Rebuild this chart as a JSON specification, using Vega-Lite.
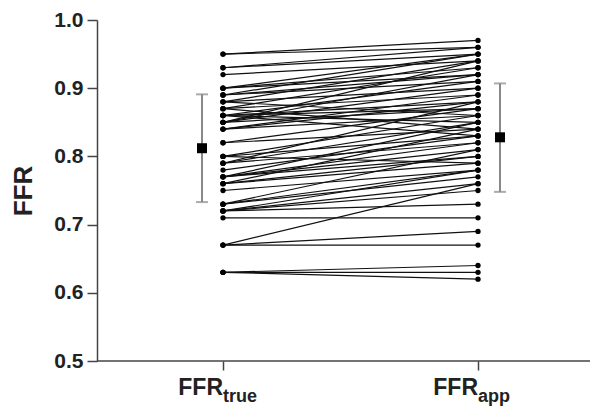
{
  "$schema": "https://vega.github.io/schema/vega-lite/v6.json",
  "autosize": {"type": "none"},
  "padding": {"left": 97, "top": 20, "right": 11, "bottom": 47},
  "width": 493,
  "height": 341,
  "background": "white",
  "config": {"view": {"stroke": null}, "font": "Liberation Sans"},
  "datasets": {
    "pairs": [
      {"id": 1, "FFRtrue": 0.95, "FFRapp": 0.97},
      {"id": 2, "FFRtrue": 0.95, "FFRapp": 0.96},
      {"id": 3, "FFRtrue": 0.93, "FFRapp": 0.96},
      {"id": 4, "FFRtrue": 0.93, "FFRapp": 0.95},
      {"id": 5, "FFRtrue": 0.92, "FFRapp": 0.94},
      {"id": 6, "FFRtrue": 0.90, "FFRapp": 0.95},
      {"id": 7, "FFRtrue": 0.90, "FFRapp": 0.93},
      {"id": 8, "FFRtrue": 0.89, "FFRapp": 0.92},
      {"id": 9, "FFRtrue": 0.89, "FFRapp": 0.91},
      {"id": 10, "FFRtrue": 0.88, "FFRapp": 0.94},
      {"id": 11, "FFRtrue": 0.88, "FFRapp": 0.90},
      {"id": 12, "FFRtrue": 0.87, "FFRapp": 0.93},
      {"id": 13, "FFRtrue": 0.87, "FFRapp": 0.89},
      {"id": 14, "FFRtrue": 0.86, "FFRapp": 0.88},
      {"id": 15, "FFRtrue": 0.86, "FFRapp": 0.91},
      {"id": 16, "FFRtrue": 0.86, "FFRapp": 0.85},
      {"id": 17, "FFRtrue": 0.85, "FFRapp": 0.87},
      {"id": 18, "FFRtrue": 0.85, "FFRapp": 0.90},
      {"id": 19, "FFRtrue": 0.84, "FFRapp": 0.86},
      {"id": 20, "FFRtrue": 0.84, "FFRapp": 0.89},
      {"id": 21, "FFRtrue": 0.82, "FFRapp": 0.84},
      {"id": 22, "FFRtrue": 0.80, "FFRapp": 0.86},
      {"id": 23, "FFRtrue": 0.80, "FFRapp": 0.83},
      {"id": 24, "FFRtrue": 0.79, "FFRapp": 0.82},
      {"id": 25, "FFRtrue": 0.79, "FFRapp": 0.88},
      {"id": 26, "FFRtrue": 0.77, "FFRapp": 0.81},
      {"id": 27, "FFRtrue": 0.77, "FFRapp": 0.85},
      {"id": 28, "FFRtrue": 0.76, "FFRapp": 0.80},
      {"id": 29, "FFRtrue": 0.76, "FFRapp": 0.79},
      {"id": 30, "FFRtrue": 0.75, "FFRapp": 0.78},
      {"id": 31, "FFRtrue": 0.73, "FFRapp": 0.78},
      {"id": 32, "FFRtrue": 0.73, "FFRapp": 0.77},
      {"id": 33, "FFRtrue": 0.72, "FFRapp": 0.76},
      {"id": 34, "FFRtrue": 0.72, "FFRapp": 0.73},
      {"id": 35, "FFRtrue": 0.72, "FFRapp": 0.75},
      {"id": 36, "FFRtrue": 0.71, "FFRapp": 0.71},
      {"id": 37, "FFRtrue": 0.67, "FFRapp": 0.76},
      {"id": 38, "FFRtrue": 0.67, "FFRapp": 0.69},
      {"id": 39, "FFRtrue": 0.67, "FFRapp": 0.67},
      {"id": 40, "FFRtrue": 0.63, "FFRapp": 0.64},
      {"id": 41, "FFRtrue": 0.63, "FFRapp": 0.63},
      {"id": 42, "FFRtrue": 0.63, "FFRapp": 0.62},
      {"id": 43, "FFRtrue": 0.87, "FFRapp": 0.84},
      {"id": 44, "FFRtrue": 0.85, "FFRapp": 0.92},
      {"id": 45, "FFRtrue": 0.86, "FFRapp": 0.87},
      {"id": 46, "FFRtrue": 0.78, "FFRapp": 0.83},
      {"id": 47, "FFRtrue": 0.80, "FFRapp": 0.79},
      {"id": 48, "FFRtrue": 0.89, "FFRapp": 0.95},
      {"id": 49, "FFRtrue": 0.82, "FFRapp": 0.87},
      {"id": 50, "FFRtrue": 0.77, "FFRapp": 0.82},
      {"id": 51, "FFRtrue": 0.90, "FFRapp": 0.92},
      {"id": 52, "FFRtrue": 0.88, "FFRapp": 0.86},
      {"id": 53, "FFRtrue": 0.86, "FFRapp": 0.83},
      {"id": 54, "FFRtrue": 0.84, "FFRapp": 0.88},
      {"id": 55, "FFRtrue": 0.79, "FFRapp": 0.85},
      {"id": 56, "FFRtrue": 0.77, "FFRapp": 0.80},
      {"id": 57, "FFRtrue": 0.76, "FFRapp": 0.84},
      {"id": 58, "FFRtrue": 0.73, "FFRapp": 0.81},
      {"id": 59, "FFRtrue": 0.72, "FFRapp": 0.78},
      {"id": 60, "FFRtrue": 0.85, "FFRapp": 0.94}
    ],
    "summary": [
      {"method": "FFRtrue", "mean": 0.812, "lo": 0.733, "hi": 0.891},
      {"method": "FFRapp", "mean": 0.828, "lo": 0.748, "hi": 0.907}
    ],
    "labels": [
      {"method": "FFRtrue", "sub": "true"},
      {"method": "FFRapp", "sub": "app"}
    ]
  },
  "layer": [
    {
      "data": {"name": "pairs"},
      "transform": [{"fold": ["FFRtrue", "FFRapp"], "as": ["method", "ffr"]}],
      "mark": {"type": "line", "color": "#111", "strokeWidth": 1.2},
      "encoding": {
        "x": {"field": "method", "type": "nominal", "title": null,
          "scale": {"type": "point", "domain": ["FFRtrue", "FFRapp"], "range": [126, 381], "padding": 0},
          "axis": {"domain": false, "labels": false, "ticks": true, "tickSize": 9, "tickColor": "#444", "tickWidth": 1.5, "title": null}},
        "y": {"field": "ffr", "type": "quantitative", "title": "FFR",
          "scale": {"domain": [0.5, 1.0], "nice": false, "zero": false},
          "axis": {
            "values": [0.5, 0.55, 0.6, 0.65, 0.7, 0.75, 0.8, 0.85, 0.9, 0.95, 1.0],
            "labelExpr": "abs(datum.value*10 - round(datum.value*10)) < 0.01 ? format(datum.value, '.1f') : ''",
            "tickSize": {"condition": {"test": "abs(datum.value*10 - round(datum.value*10)) > 0.01", "value": 6}, "value": 10},
            "grid": false, "domainColor": "#444", "domainWidth": 1.5, "tickColor": "#444", "tickWidth": 1.5,
            "labelFontSize": 21, "labelFontWeight": "bold", "labelColor": "#222", "labelPadding": 4,
            "titleFontSize": 26, "titleFontWeight": "bold", "titleColor": "#222", "titlePadding": 17
          }},
        "detail": {"field": "id", "type": "nominal"}
      }
    },
    {
      "data": {"name": "pairs"},
      "transform": [{"fold": ["FFRtrue", "FFRapp"], "as": ["method", "ffr"]}],
      "mark": {"type": "circle", "color": "#000", "opacity": 1, "size": 28},
      "encoding": {
        "x": {"field": "method", "type": "nominal", "title": null},
        "y": {"field": "ffr", "type": "quantitative", "title": "FFR"}
      }
    },
    {
      "data": {"name": "summary"},
      "transform": [{"filter": "datum.method === 'FFRtrue'"}],
      "layer": [
        {"mark": {"type": "rule", "color": "#888", "strokeWidth": 2, "xOffset": -21},
          "encoding": {"x": {"field": "method", "type": "nominal", "title": null},
            "y": {"field": "lo", "type": "quantitative", "title": "FFR"}, "y2": {"field": "hi"}}},
        {"mark": {"type": "tick", "orient": "horizontal", "color": "#888", "size": 12, "thickness": 2, "xOffset": -21},
          "encoding": {"x": {"field": "method", "type": "nominal", "title": null},
            "y": {"field": "lo", "type": "quantitative", "title": "FFR"}}},
        {"mark": {"type": "tick", "orient": "horizontal", "color": "#888", "size": 12, "thickness": 2, "xOffset": -21},
          "encoding": {"x": {"field": "method", "type": "nominal", "title": null},
            "y": {"field": "hi", "type": "quantitative", "title": "FFR"}}},
        {"mark": {"type": "square", "color": "#000", "opacity": 1, "size": 100, "xOffset": -21},
          "encoding": {"x": {"field": "method", "type": "nominal", "title": null},
            "y": {"field": "mean", "type": "quantitative", "title": "FFR"}}}
      ]
    },
    {
      "data": {"name": "summary"},
      "transform": [{"filter": "datum.method === 'FFRapp'"}],
      "layer": [
        {"mark": {"type": "rule", "color": "#888", "strokeWidth": 2, "xOffset": 22},
          "encoding": {"x": {"field": "method", "type": "nominal", "title": null},
            "y": {"field": "lo", "type": "quantitative", "title": "FFR"}, "y2": {"field": "hi"}}},
        {"mark": {"type": "tick", "orient": "horizontal", "color": "#888", "size": 12, "thickness": 2, "xOffset": 22},
          "encoding": {"x": {"field": "method", "type": "nominal", "title": null},
            "y": {"field": "lo", "type": "quantitative", "title": "FFR"}}},
        {"mark": {"type": "tick", "orient": "horizontal", "color": "#888", "size": 12, "thickness": 2, "xOffset": 22},
          "encoding": {"x": {"field": "method", "type": "nominal", "title": null},
            "y": {"field": "hi", "type": "quantitative", "title": "FFR"}}},
        {"mark": {"type": "square", "color": "#000", "opacity": 1, "size": 100, "xOffset": 22},
          "encoding": {"x": {"field": "method", "type": "nominal", "title": null},
            "y": {"field": "mean", "type": "quantitative", "title": "FFR"}}}
      ]
    },
    {
      "data": {"values": [{"v": 0.5}]},
      "mark": {"type": "rule", "color": "#444", "strokeWidth": 1.5},
      "encoding": {"y": {"field": "v", "type": "quantitative", "title": "FFR"}}
    },
    {
      "data": {"name": "labels"},
      "mark": {"type": "text", "text": "FFR", "align": "right", "baseline": "alphabetic", "dy": 34, "fontSize": 23, "fontWeight": "bold", "color": "#222"},
      "encoding": {"x": {"field": "method", "type": "nominal", "title": null},
        "y": {"datum": 0.5, "type": "quantitative", "title": "FFR"}}
    },
    {
      "data": {"name": "labels"},
      "mark": {"type": "text", "align": "left", "baseline": "alphabetic", "dy": 41, "fontSize": 18, "fontWeight": "bold", "color": "#222"},
      "encoding": {"x": {"field": "method", "type": "nominal", "title": null},
        "y": {"datum": 0.5, "type": "quantitative", "title": "FFR"},
        "text": {"field": "sub"}}
    }
  ]
}
